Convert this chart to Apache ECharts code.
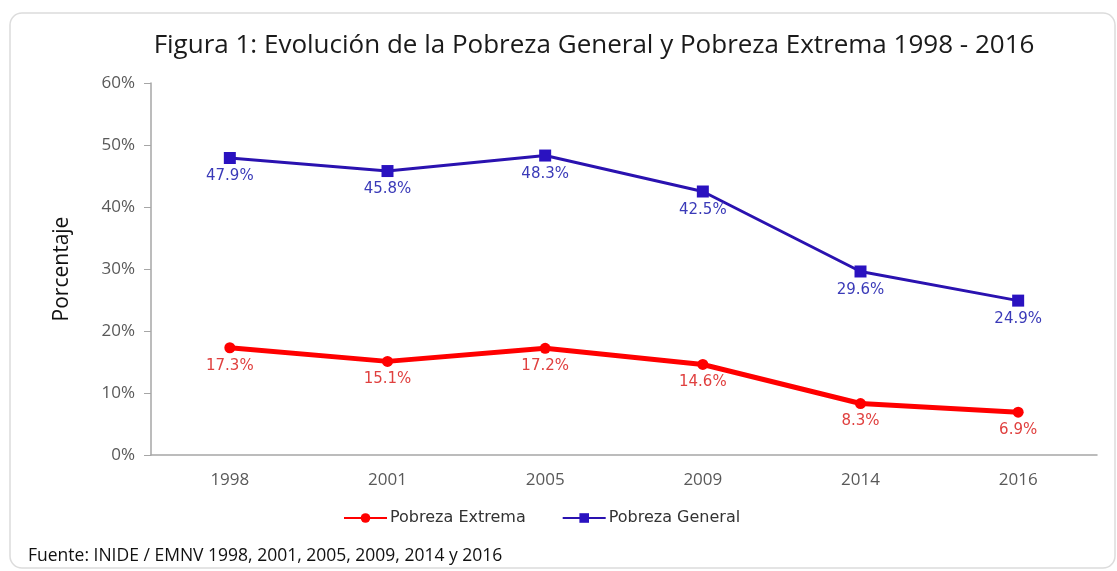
<!DOCTYPE html>
<html>
<head>
<meta charset="utf-8">
<script src="https://cdn.jsdelivr.net/npm/echarts@6/dist/echarts.min.js"></script>
<style>
  html, body { margin: 0; padding: 0; background: #fff; }
  #chart { width: 1117px; height: 571px; }
</style>
</head>
<body>
<div id="chart"></div>
<script>
// datos
const years = ['1998', '2001', '2005', '2009', '2014', '2016']
const pobrezaExtrema = [17.3, 15.1, 17.2, 14.6, 8.3, 6.9]
const pobrezaGeneral = [47.9, 45.8, 48.3, 42.5, 29.6, 24.9]
const yTicks = [0, 10, 20, 30, 40, 50, 60]

const chart = echarts.init(document.getElementById('chart'))

const labelStyle = (color) => ({
  show: true,
  position: 'bottom',
  distance: 5,
  color: color,
  fontFamily: 'DejaVu Sans',
  fontSize: 15,
  formatter: (p) => p.value.toFixed(1) + '%'
})

const option = {
  backgroundColor: '#fff',
  animation: false,
  graphic: [
    {
      type: 'rect',
      shape: { x: 10, y: 13, width: 1105, height: 555, r: 12 },
      style: { fill: 'none', stroke: '#dcdcdc', lineWidth: 1.5 },
      z: -1
    },
    {
      type: 'text',
      left: 28,
      top: 547,
      style: {
        text: 'Fuente: INIDE / EMNV 1998, 2001, 2005, 2009, 2014 y 2016',
        fill: '#111',
        font: '17.5px "Open Sans"'
      }
    }
  ],
  title: {
    text: 'Figura 1: Evolución de la Pobreza General y Pobreza Extrema 1998 - 2016',
    left: 589,
    textAlign: 'center',
    top: 28,
    textStyle: {
      fontFamily: 'Open Sans',
      fontWeight: 'normal',
      fontSize: 26,
      color: '#1a1a1a'
    }
  },
  legend: {
    left: 338,
    top: 505,
    itemWidth: 43,
    itemHeight: 12,
    itemGap: 36,
    textStyle: { fontFamily: 'DejaVu Sans', fontSize: 16, color: '#333', padding: [0, 0, 0, -2] },
    data: ['Pobreza Extrema', 'Pobreza General']
  },
  grid: {
    left: 151,
    right: 20,
    top: 83,
    bottom: 116
  },
  xAxis: {
    type: 'category',
    data: years,
    boundaryGap: true,
    axisLine: { lineStyle: { color: '#a6a6a6', width: 1.5 } },
    axisTick: { show: false },
    axisLabel: {
      margin: 17,
      color: '#595959',
      fontFamily: 'Open Sans',
      fontSize: 17
    }
  },
  yAxis: {
    type: 'value',
    min: yTicks[0],
    max: yTicks[yTicks.length - 1],
    interval: 10,
    name: 'Porcentaje',
    nameLocation: 'middle',
    nameGap: 78,
    nameTextStyle: { fontFamily: 'Open Sans', fontSize: 21, color: '#111' },
    axisLine: { show: true, lineStyle: { color: '#a6a6a6', width: 1.5 } },
    axisTick: { show: true, length: 7, lineStyle: { color: '#a6a6a6' } },
    splitLine: { show: false },
    axisLabel: {
      margin: 16,
      color: '#595959',
      fontFamily: 'Open Sans',
      fontSize: 17,
      formatter: (v) => v + '%'
    }
  },
  series: [
    {
      name: 'Pobreza Extrema',
      type: 'line',
      data: pobrezaExtrema,
      symbol: 'circle',
      symbolSize: 11,
      lineStyle: { color: '#ff0000', width: 5 },
      itemStyle: { color: '#ff0000' },
      label: labelStyle('#e0403f')
    },
    {
      name: 'Pobreza General',
      type: 'line',
      data: pobrezaGeneral,
      symbol: 'rect',
      symbolSize: 12,
      lineStyle: { color: '#2a12b0', width: 3 },
      itemStyle: { color: '#2a12c0' },
      label: labelStyle('#3a3ab8')
    }
  ]
}

chart.setOption(option)
</script>
</body>
</html>
